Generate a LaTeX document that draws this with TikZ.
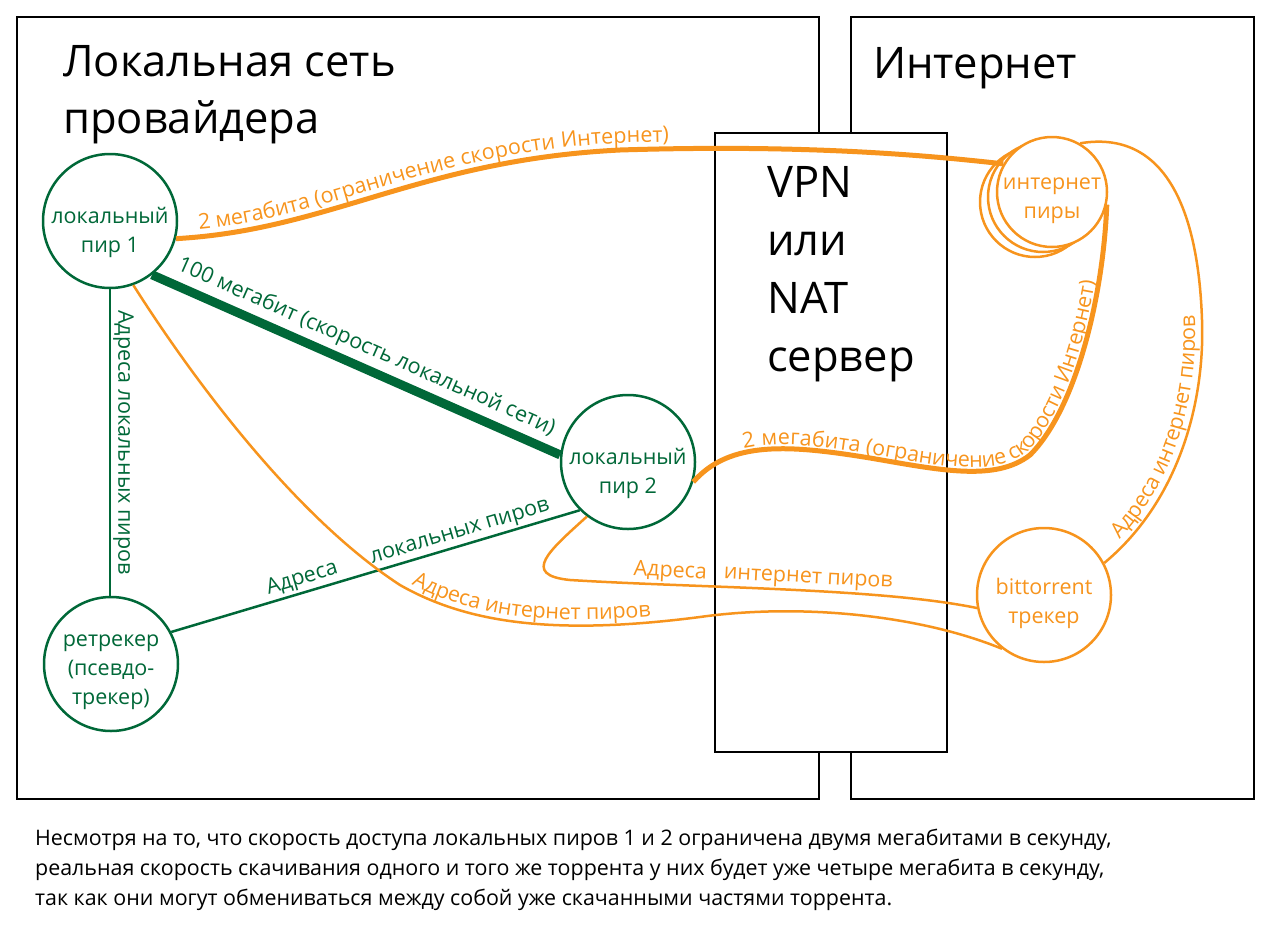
\documentclass[tikz,border=0pt]{standalone}
\usepackage{fontspec}
\setmainfont{Open Sans}
\usetikzlibrary{decorations.text}
\definecolor{org}{HTML}{F7941D}
\definecolor{grn}{HTML}{006838}
\newcommand\nodefont{\fontsize{21.5}{29}\selectfont}
\newcommand\bigfont{\fontsize{43.5}{57}\selectfont}
\newcommand\capfont{\fontsize{21.4}{30}\selectfont}
\tikzset{
  box/.style={draw=black, line width=2.5pt},
  peer/.style={circle, draw=grn, line width=2.5pt, fill=white, minimum size=134pt, inner sep=0pt},
  opeer/.style={peer, draw=org},
  ipeer/.style={opeer, minimum size=110pt},
  gtxt/.style={align=center, text=grn, font=\nodefont, inner sep=0pt},
  otxt/.style={gtxt, text=org},
  gthin/.style={draw=grn, line width=2.5pt},
  gthick/.style={draw=grn, line width=9pt},
  othin/.style={draw=org, line width=2.5pt},
  othick/.style={draw=org, line width=5pt},
  glbl/.style={text=grn, font=\nodefont, inner sep=2pt},
  olbl/.style={text=org, font=\nodefont, inner sep=2pt},
  otext/.style={decorate, decoration={text along path, text color=org, text format delimiters={|}{|}, raise=#1}},
}
\begin{document}
\begin{tikzpicture}[x=1pt,y=-1pt]
\useasboundingbox (0,0) rectangle (1280,940);
% frames
\draw[box] (17,17) rectangle (819,799);
\draw[box] (851,17) rectangle (1254,799);
\draw[box, fill=white] (715,133) rectangle (947,752);
% titles
\node[anchor=base west, font=\bigfont, inner sep=0] (t1) at (63,76) {Локальная сеть};
\node[anchor=base west, font=\bigfont, inner sep=0] (t2) at (63,133) {провайдера};
\node[anchor=base west, font=\bigfont, inner sep=0] (t3) at (873,78) {Интернет};
\node[anchor=base west, font=\bigfont, inner sep=0] (v1) at (767,197) {VPN};
\node[anchor=base west, font=\bigfont, inner sep=0] (v2) at (767,255) {или};
\node[anchor=base west, font=\bigfont, inner sep=0] (v3) at (767,313) {NAT};
\node[anchor=base west, font=\bigfont, inner sep=0] (v4) at (767,371) {сервер};
% peers
\node[peer] (p1) at (110,221) {};
\node[gtxt] (p1t) at ([yshift=-11pt]p1.center) {локальный\\пир 1};
\node[peer] (p2) at (628,462) {};
\node[gtxt] (p2t) at ([yshift=-11pt]p2.center) {локальный\\пир 2};
\node[peer] (rt) at (111,664) {};
\node[gtxt] (rtt) at ([yshift=-8pt]rt.center) {ретрекер\\(псевдо-\\трекер)};
\node[opeer] (bt) at (1044,595) {};
\node[otxt] (btt) at ([yshift=-8pt]bt.center) {bittorrent\\трекер};
\node[ipeer] (ip3) at (1035,202) {};
\node[ipeer] (ip2) at (1043,197) {};
\node[ipeer] (ip) at (1052,192) {};
\node[otxt] (ipt) at ([yshift=-9pt]ip.center) {интернет\\пиры};
% green connectors
\draw[gthick] (p1.-52) -- node[sloped, above=3pt, pos=0.505, glbl] (l2) {100 мегабит (скорость локальной сети)} (p2.174);
\draw[gthin] (p1.south) -- node[pos=0.5, rotate=-90, anchor=south, glbl] (l3) {Адреса локальных пиров} (p1.south |- rt.north);
\draw[gthin] (rt.28) -- node[sloped, above, pos=0.33, glbl] (l4a) {Адреса} node[sloped, above, pos=0.716, glbl] (l4b) {локальных пиров} (p2.225);
% orange connectors
\draw[othick] (p1.-15) .. controls (330,230) and (420,160) .. (620,150) .. controls (780,145) and (900,152) .. (ip.150);
\path[otext=7pt, decoration={text={|\nodefont|2 мегабита (ограничение скорости Интернет)}, text align={left indent=24pt}}]
  (p1.-15) .. controls (330,230) and (420,160) .. (620,150) .. controls (780,145) and (900,152) .. (ip.150);
\draw[othick] (p2.-17) .. controls (730,440) and (790,445) .. (870,458) .. controls (940,470) and (995,482) .. (1030,455) .. controls (1075,410) and (1103,300) .. (ip.-13);
\path[otext=4pt, decoration={text={|\nodefont|2 мегабита (ограничение скорости Интернет)}, text align={left indent=60pt}}]
  (p2.-17) .. controls (730,440) and (790,445) .. (870,458) .. controls (940,470) and (995,482) .. (1030,455) .. controls (1075,410) and (1103,300) .. (ip.-13);
\coordinate (m5) at (400,585);
\coordinate (n5) at (700,617);
\draw[othin] (p1.-70) .. controls (200,390) and (300,520) .. (m5) .. controls (470,625) and (560,635) .. (n5) .. controls (800,603) and (920,615) .. (bt.232);
\path[otext=6pt, decoration={text={|\nodefont|Адреса интернет пиров}, text align={left indent=10pt}}]
  (m5) .. controls (470,625) and (560,635) .. (n5);
\draw[othin] (p2.233) .. controls (550,550) and (520,575) .. (570,580) .. controls (700,588) and (880,588) .. (bt.191);
\node[olbl, rotate=-3, anchor=base] (l6a) at (670,577) {Адреса};
\node[olbl, rotate=-3, anchor=base] (l6b) at (808,583) {интернет пиров};
\draw[othin] (bt.28) .. controls (1180,500) and (1205,400) .. (1202,320) .. controls (1198,200) and (1160,130) .. (ip.60);
\path[otext=7pt, decoration={text={|\nodefont|Адреса интернет пиров}, text align={left indent=28pt}}]
  (bt.28) .. controls (1180,500) and (1205,400) .. (1202,320) .. controls (1198,200) and (1160,130) .. (ip.60);
% caption
\node[anchor=base west, font=\capfont, inner sep=0] (c1) at (35,845) {Несмотря на то, что скорость доступа локальных пиров 1 и 2 ограничена двумя мегабитами в секунду,};
\node[anchor=base west, font=\capfont, inner sep=0] (c2) at (35,875) {реальная скорость скачивания одного и того же торрента у них будет уже четыре мегабита в секунду,};
\node[anchor=base west, font=\capfont, inner sep=0] (c3) at (35,905) {так как они могут обмениваться между собой уже скачанными частями торрента.};
\end{tikzpicture}
\end{document}
